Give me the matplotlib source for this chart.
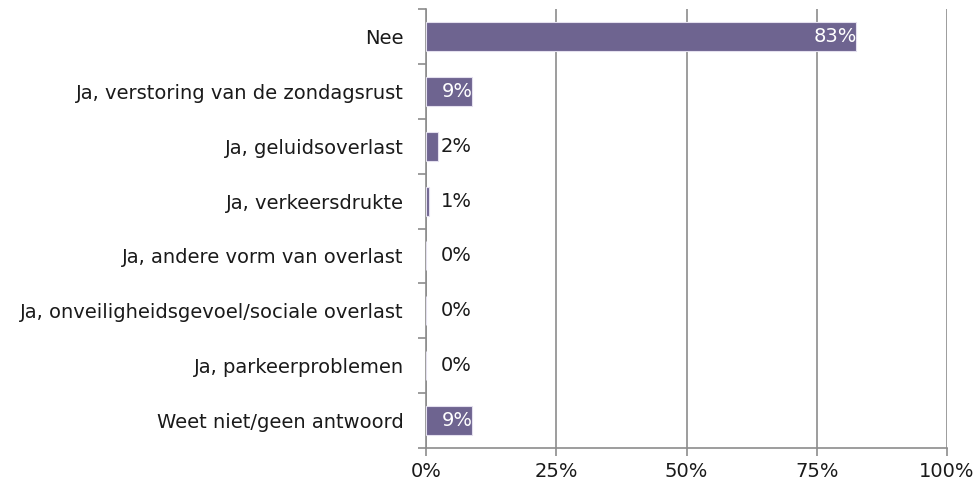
import matplotlib
matplotlib.use("Agg")
import matplotlib.pyplot as plt
import numpy as np

categories = [
    "Nee",
    "Ja, verstoring van de zondagsrust",
    "Ja, geluidsoverlast",
    "Ja, verkeersdrukte",
    "Ja, andere vorm van overlast",
    "Ja, onveiligheidsgevoel/sociale overlast",
    "Ja, parkeerproblemen",
    "Weet niet/geen antwoord",
]
values = [82.5, 8.8, 2.3, 0.6, 0.0, 0.0, 0.0, 8.8]
labels = ["83%", "9%", "2%", "1%", "0%", "0%", "0%", "9%"]
xticks = [0, 25, 50, 75, 100]
xticklabels = ["0%", "25%", "50%", "75%", "100%"]

BAR = "#6e6490"
GRID = "#8c8c8c"
FS = 14

plt.rcParams["font.family"] = ["DejaVu Sans"]
fig = plt.figure(figsize=(9.8, 4.83), dpi=100)
ax = fig.add_axes([426 / 980, 1 - 448 / 483, 521 / 980, 439 / 483])

y = np.arange(len(categories))
ax.barh(y, values, height=0.53, color=BAR, edgecolor="#e4e0ee",
        linewidth=0.8, zorder=3)

for yi, v, lab in zip(y, values, labels):
    if v >= 5:
        ax.annotate(lab, (v, yi), xytext=(1, 0), textcoords="offset points",
                    ha="right", va="center", color="white", fontsize=FS,
                    zorder=4)
    else:
        ax.annotate(lab, (max(v, 2.3), yi), xytext=(2, 0),
                    textcoords="offset points", ha="left", va="center",
                    color="#1a1a1a", fontsize=FS, zorder=4)

ax.set_xlim(0, 100)
ax.set_ylim(len(categories) - 0.5, -0.5)
ax.set_xticks(xticks)
ax.set_xticklabels(xticklabels, fontsize=FS, color="#1a1a1a")
ax.set_yticks(y)
ax.set_yticklabels(categories, fontsize=FS, color="#1a1a1a")
ax.tick_params(axis="y", length=0, pad=16)
ax.set_yticks(np.arange(len(categories) + 1) - 0.5, minor=True)
ax.tick_params(axis="y", which="minor", length=6, color=GRID, width=1.2)
ax.tick_params(axis="x", length=6, color=GRID, width=1.2, pad=4)

ax.grid(axis="x", color=GRID, linewidth=1.2, zorder=0)
for side in ("top", "right"):
    ax.spines[side].set_visible(False)
for side in ("left", "bottom"):
    ax.spines[side].set_color(GRID)
    ax.spines[side].set_linewidth(1.2)

fig.savefig("out.png", dpi=100)
